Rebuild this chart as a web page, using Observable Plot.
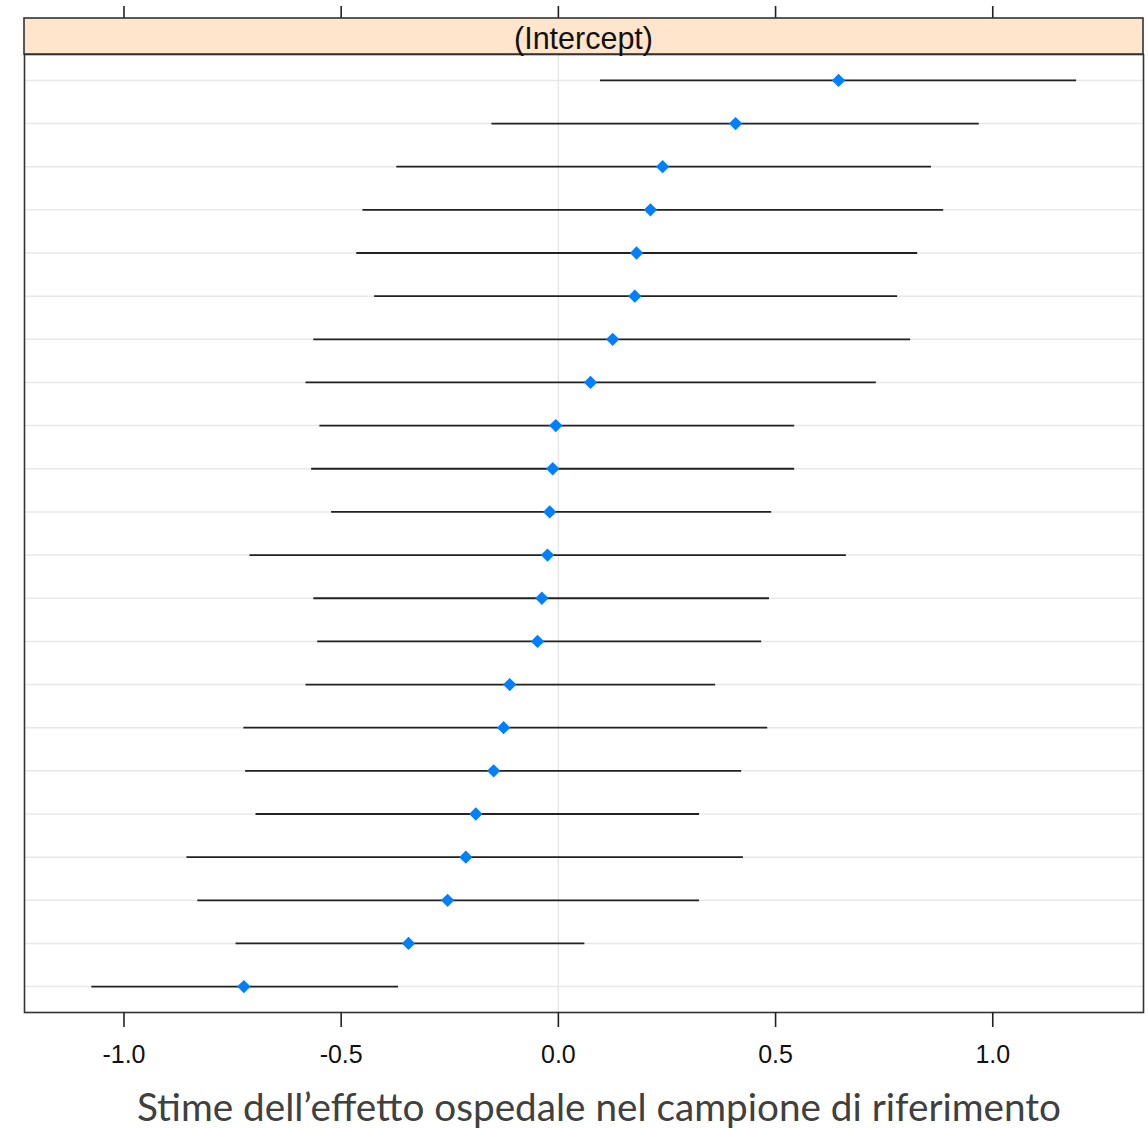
<!DOCTYPE html>
<html><head><meta charset="utf-8">
<script src="https://cdn.jsdelivr.net/npm/d3@7"></script>
<script src="https://cdn.jsdelivr.net/npm/@observablehq/plot@0.6"></script>
<style>body{margin:0;background:#fff}</style>
</head><body><div id="chart"></div>
<script>
// Hospitals ordered from top row to bottom row (ranked by estimate)
const hospitals = ["r01","r02","r03","r04","r05","r06","r07","r08","r09","r10","r11",
                   "r12","r13","r14","r15","r16","r17","r18","r19","r20","r21","r22"];
const estimate = [0.645, 0.408, 0.240, 0.212, 0.180, 0.176, 0.125, 0.074, -0.006, -0.013, -0.020,
                  -0.025, -0.038, -0.048, -0.112, -0.126, -0.149, -0.190, -0.213, -0.255, -0.345, -0.724];
const lower = [0.097, -0.153, -0.372, -0.450, -0.464, -0.423, -0.563, -0.581, -0.549, -0.568, -0.522,
               -0.710, -0.563, -0.554, -0.581, -0.724, -0.720, -0.696, -0.855, -0.830, -0.742, -1.074];
const upper = [1.193, 0.969, 0.859, 0.887, 0.827, 0.781, 0.811, 0.732, 0.544, 0.544, 0.491,
               0.663, 0.486, 0.468, 0.362, 0.482, 0.422, 0.325, 0.426, 0.325, 0.061, -0.368];
const xTicks = [-1.0, -0.5, 0.0, 0.5, 1.0];
const xDomain = [-1.229, 1.347];
const stripLabel = "(Intercept)";
const caption = "Stime dell\u2019effetto ospedale nel campione di riferimento";

const data = hospitals.map((h, i) => ({h, est: estimate[i], lo: lower[i], hi: upper[i]}));

const W = 1148, H = 1128, mL = 24, mR = 5, mT = 54, mB = 116, stripH = 36;
const fmt = d => d.toFixed(1);

const plot = Plot.plot({
  width: W, height: H,
  marginLeft: mL, marginRight: mR, marginTop: mT, marginBottom: mB,
  style: {fontFamily: "'Liberation Sans', Arial, sans-serif", fontSize: "25px", color: "#000", background: "#fff"},
  x: {domain: xDomain, label: null, axis: null},
  y: {type: "point", domain: hospitals, padding: 0.6, round: false, axis: null, label: null},
  marks: [
    Plot.ruleY(hospitals, {y: d => d, stroke: "#e8e8e8", strokeWidth: 1.5}),
    Plot.ruleX([0], {stroke: "#e8e8e8", strokeWidth: 1.5}),
    Plot.ruleY(data, {y: "h", x1: "lo", x2: "hi", stroke: "#222", strokeWidth: 1.8}),
    Plot.dot(data, {x: "est", y: "h", symbol: "diamond2", r: 6, fill: "#0080ff", stroke: "none"}),
    Plot.frame({stroke: "#333", strokeWidth: 1.6}),
    Plot.axisX({anchor: "bottom", ticks: xTicks, tickFormat: fmt, tickSize: 15, tickPadding: 18,
                stroke: "#222", strokeWidth: 1.6, fill: "#111", label: null}),
    Plot.axisX({anchor: "top", ticks: xTicks, tickFormat: () => "", tickSize: 13, dy: -stripH,
                stroke: "#222", strokeWidth: 1.6, label: null}),
    Plot.text([caption], {text: d => d, frameAnchor: "bottom", dy: 108, dx: 15,
                          fontSize: 38.7, fontFamily: "Lato, 'Open Sans', sans-serif", fill: "#404040"})
  ]
});

// lattice strip above the panel
const svg = d3.select(plot);
const g = svg.append("g");
g.append("rect")
  .attr("x", mL).attr("y", mT - stripH)
  .attr("width", W - mL - mR).attr("height", stripH)
  .attr("fill", "#ffe5cc").attr("stroke", "#333").attr("stroke-width", 1.6);
g.append("text")
  .attr("x", mL + (W - mL - mR) / 2).attr("y", mT - stripH / 2 + 2)
  .attr("text-anchor", "middle").attr("dy", "0.35em")
  .attr("font-size", 30.5).attr("font-family", "'Liberation Sans', Arial, sans-serif")
  .attr("fill", "#111")
  .text(stripLabel);

document.getElementById("chart").appendChild(plot);
</script>
</body></html>
